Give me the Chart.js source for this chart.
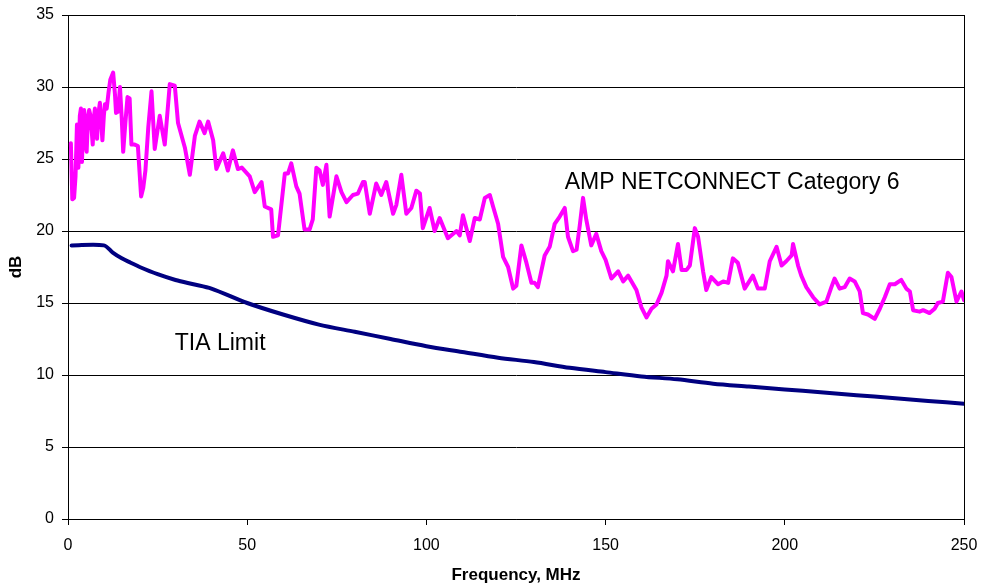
<!DOCTYPE html>
<html lang="en">

<head>
  <meta charset="UTF-8">
  <title>Return Loss</title>
  <script src="https://cdn.jsdelivr.net/npm/chart.js"></script>
  <style>
    body {
      margin: 0;
      background: #fff;
    }
  </style>
</head>

<body>
  <canvas id="myChart" width="982" height="587"></canvas>
</body>

</html>
<script>

  const ampFreq = [0.8, 1.2, 1.7, 2.1, 2.5, 2.9, 3.3, 3.6, 3.9, 4.2, 4.5, 4.9, 5.2, 5.6, 5.9, 6.2, 6.6, 6.9, 7.2, 7.5,
    7.8, 8.1, 8.5, 8.9, 9.2, 9.6, 10.0, 10.3, 10.8, 11.3, 11.8, 12.6, 13.1, 13.4, 14.0, 14.5, 15.0, 15.4, 16.0, 16.6,
    17.2, 17.7, 18.6, 19.5, 20.4, 21.0, 21.6, 22.4, 23.3, 24.2, 25.6, 27.0, 28.4, 29.8, 30.7, 32.6, 34.0, 35.4, 36.7, 38.1,
    39.1, 40.5, 41.4, 43.3, 44.6, 46.0, 47.4, 48.5, 50.7, 52.1, 54.0, 54.9, 56.7, 57.2, 58.6, 60.5, 61.4, 62.3, 63.7, 64.6,
    66.0, 67.4, 68.3, 69.3, 70.2, 71.1, 72.1, 73.0, 74.9, 76.3, 77.7, 79.5, 80.9, 82.3, 82.8, 84.2, 86.0, 87.4, 88.8, 90.7,
    91.6, 93.0, 94.4, 95.8, 97.2, 98.2, 99.0, 100.9, 102.3, 103.7, 106.0, 108.4, 109.3, 110.2, 112.1, 113.5, 114.9, 116.3, 117.7, 118.6,
    120.0, 121.4, 122.8, 124.2, 125.1, 126.5, 127.9, 129.3, 130.2, 131.1, 133.0, 134.4, 135.8, 137.2, 138.6, 139.5, 140.9, 141.9, 142.8, 143.7,
    144.6, 146.0, 147.4, 148.8, 150.0, 151.6, 153.5, 154.9, 156.3, 158.6, 160.0, 161.4, 162.8, 164.2, 165.6, 167.0, 167.4, 168.8, 170.2, 171.2,
    172.6, 173.5, 174.9, 175.8, 177.2, 178.1, 179.5, 181.4, 182.8, 184.2, 185.5, 186.9, 188.8, 191.1, 192.5, 194.4, 195.8, 197.7, 199.1, 200.4,
    201.9, 202.3, 203.7, 204.6, 206.0, 207.9, 209.7, 211.6, 213.0, 213.9, 215.3, 216.7, 218.1, 219.5, 220.9, 221.8, 223.2, 225.1, 226.5, 227.9,
    229.3, 230.7, 232.5, 233.9, 234.9, 235.8, 237.6, 238.6, 240.4, 241.8, 242.7, 244.1, 245.5, 246.5, 247.9, 249.3, 250.0];
  const ampDb = [26.1, 22.2, 22.3, 23.8, 27.4, 24.4, 28.0, 28.5, 24.8, 27.5, 28.4, 26.0, 25.5, 28.0, 28.4, 28.1, 27.0, 26.0, 27.8, 28.5,
    27.5, 26.4, 28.2, 28.9, 27.8, 26.3, 28.0, 28.8, 28.5, 29.6, 30.5, 31.0, 29.5, 28.2, 28.3, 30.0, 27.8, 25.5, 27.5, 29.3,
    29.2, 26.0, 26.0, 25.9, 22.4, 23.0, 24.2, 27.2, 29.7, 25.7, 28.0, 26.0, 30.2, 30.1, 27.5, 25.8, 23.9, 26.6, 27.6, 26.8,
    27.6, 26.3, 24.3, 25.4, 24.2, 25.6, 24.3, 24.4, 23.8, 22.7, 23.4, 21.7, 21.5, 19.6, 19.7, 24.0, 24.0, 24.7, 23.1, 22.6,
    20.1, 20.1, 20.8, 24.4, 24.2, 23.2, 24.6, 21.0, 23.8, 22.7, 22.0, 22.5, 22.6, 23.4, 23.4, 21.2, 23.3, 22.5, 23.4, 21.2,
    21.8, 23.9, 21.2, 21.6, 22.8, 22.6, 20.2, 21.6, 20.0, 20.9, 19.5, 20.0, 19.7, 21.1, 19.3, 20.9, 20.8, 22.3, 22.5, 21.7,
    20.5, 18.2, 17.5, 16.0, 16.2, 19.0, 17.8, 16.4, 16.4, 16.1, 18.3, 18.9, 20.5, 21.0, 21.6, 19.6, 18.6, 18.7, 20.4, 22.3,
    20.8, 19.0, 19.8, 18.6, 18.0, 16.7, 17.2, 16.5, 16.9, 15.9, 14.7, 14.0, 14.6, 14.9, 15.7, 16.9, 17.9, 17.2, 19.1, 17.3,
    17.3, 17.6, 20.2, 19.6, 17.2, 15.9, 16.8, 16.3, 16.5, 16.4, 18.1, 17.8, 16.0, 16.9, 16.0, 16.0, 17.9, 18.9, 17.6, 17.9,
    18.3, 19.1, 17.6, 16.9, 16.1, 15.4, 14.9, 15.1, 16.1, 16.7, 16.0, 16.1, 16.7, 16.5, 15.8, 14.3, 14.2, 13.9, 14.6, 15.4,
    16.3, 16.3, 16.6, 16.0, 15.8, 14.5, 14.4, 14.5, 14.3, 14.6, 15.0, 15.1, 17.1, 16.8, 15.1, 15.8, 15.2];

  // TIA limit curve
  const tiaFreq = [1, 10, 12.5, 15, 17.5, 20, 25, 30, 35, 40, 50, 60, 70, 80, 90, 100, 110, 120, 130, 140,
    150, 160, 170, 180, 190, 200, 210, 220, 230, 240, 250];
  const tiaDb = [19.0, 19.0, 18.5, 18.1, 17.8, 17.5, 17.0, 16.6, 16.3, 16.0, 15.0, 14.2, 13.5, 13.0, 12.5, 12.0, 11.6, 11.2, 10.9, 10.5,
    10.2, 9.9, 9.7, 9.4, 9.2, 9.0, 8.8, 8.6, 8.4, 8.2, 8.0];

  const xTicks = [0, 50, 100, 150, 200, 250];
  const yTicks = [0, 5, 10, 15, 20, 25, 30, 35];

  const fontName = "'Liberation Sans', Arial, sans-serif";

  // fixed axis sizes so the plot box lands where the original has it
  function fixSize(w, h) {
    return function (s) {
      if (w !== null) s.width = w;
      if (h !== null) s.height = h;
      s.paddingLeft = 0;
      s.paddingRight = 0;
      s.paddingTop = 0;
      s.paddingBottom = 0;
    };
  }

  // text written inside the plot next to each curve
  const curveNames = {
    id: 'curveNames',
    afterDatasetsDraw(chart) {
      const ctx = chart.ctx;
      const x = chart.scales.x;
      const y = chart.scales.y;
      ctx.save();
      ctx.fillStyle = '#000';
      ctx.font = '23px ' + fontName;
      ctx.textAlign = 'left';
      ctx.textBaseline = 'middle';
      ctx.fillText('AMP NETCONNECT Category 6', x.getPixelForValue(138.6), y.getPixelForValue(23.35));
      ctx.fillText('TIA Limit', x.getPixelForValue(29.8), y.getPixelForValue(12.15));
      ctx.restore();
    }
  };

  const config = {
    type: 'line',
    data: {
      datasets: [{
        label: 'AMP NETCONNECT Category 6',
        data: ampFreq.map((f, i) => ({ x: f, y: ampDb[i] })),
        borderColor: '#ff00ff',
        borderWidth: 4,
        pointRadius: 0,
        tension: 0,
        borderJoinStyle: 'round',
        borderCapStyle: 'round'
      }, {
        label: 'TIA Limit',
        data: tiaFreq.map((f, i) => ({ x: f, y: tiaDb[i] })),
        borderColor: '#000080',
        borderWidth: 4,
        pointRadius: 0,
        tension: 0.3,
        borderJoinStyle: 'round',
        borderCapStyle: 'round'
      }]
    },
    options: {
      responsive: false,
      animation: false,
      devicePixelRatio: 1,
      layout: {
        padding: { top: 15, right: 18, left: 0, bottom: 0 }
      },
      plugins: {
        legend: { display: false },
        tooltip: { enabled: false }
      },
      scales: {
        x: {
          type: 'linear',
          min: 0,
          max: 250,
          afterFit: fixSize(null, 68),
          afterBuildTicks: s => { s.ticks = xTicks.map(v => ({ value: v })); },
          ticks: {
            color: '#000',
            padding: 11,
            maxRotation: 0,
            font: { family: fontName, size: 16 }
          },
          grid: {
            drawOnChartArea: false,
            color: '#000',
            tickLength: 6
          },
          border: { color: '#000', width: 1 },
          title: {
            display: true,
            text: 'Frequency, MHz',
            color: '#000',
            padding: { top: 0, bottom: 1 },
            font: { family: fontName, size: 17, weight: 'bold' }
          }
        },
        y: {
          min: 0,
          max: 35,
          afterFit: fixSize(68, null),
          afterBuildTicks: s => { s.ticks = yTicks.map(v => ({ value: v })); },
          ticks: {
            color: '#000',
            padding: 8,
            font: { family: fontName, size: 16 }
          },
          grid: {
            color: '#000',
            tickLength: 6
          },
          border: { color: '#000', width: 1 },
          title: {
            display: true,
            text: 'dB',
            color: '#000',
            padding: { top: 6, bottom: 0 },
            font: { family: fontName, size: 17, weight: 'bold' }
          }
        },
        // right edge of the plot box
        yRight: {
          position: 'right',
          min: 0,
          max: 35,
          afterFit: fixSize(0, null),
          ticks: { display: false },
          grid: { display: false },
          border: { color: '#000', width: 1 }
        }
      }
    },
    plugins: [curveNames]
  };

  const myChart = new Chart(
    document.getElementById('myChart'),
    config
  );

</script>
